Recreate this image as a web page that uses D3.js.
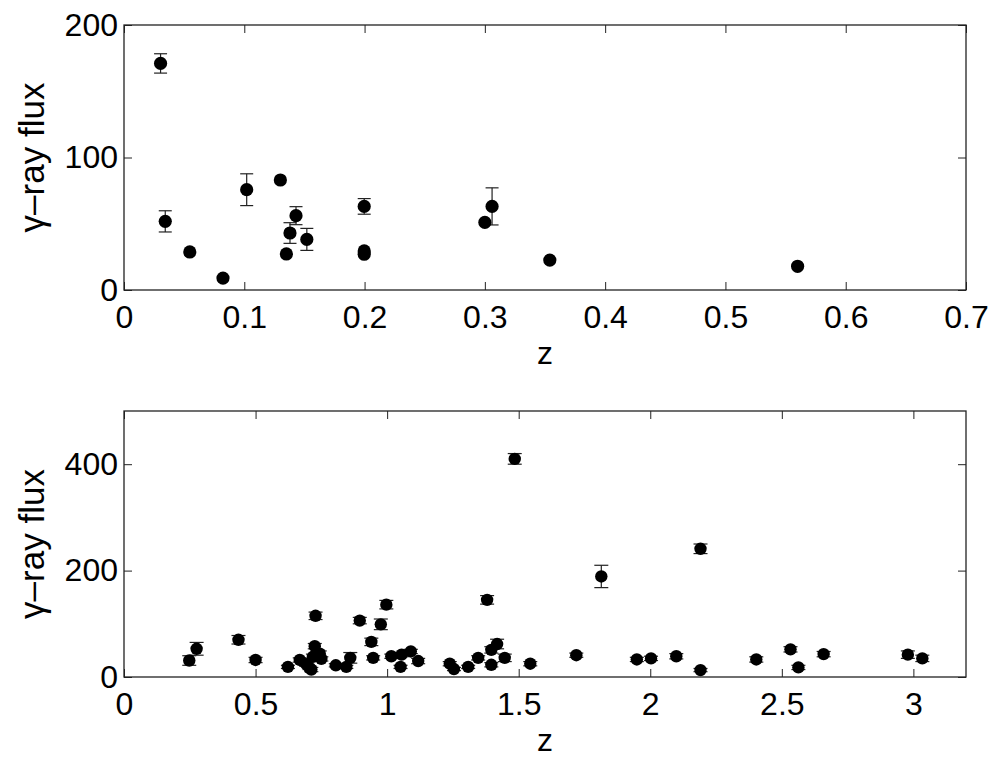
<!DOCTYPE html>
<html><head><meta charset="utf-8">
<script src="https://cdn.jsdelivr.net/npm/d3@7"></script>
<style>body{margin:0;background:#fff}svg{display:block}text{font-family:"Liberation Sans",Arial,Helvetica,sans-serif}</style>
</head><body><svg id="c" width="997" height="764"></svg>
<script>
// Top panel data (low-z sources)
const topZ    = [0.0304,0.0343,0.0547,0.0823,0.102,0.130,0.135,0.138,0.143,0.152,0.1997,0.1997,0.1997,0.300,0.306,0.354,0.560];
const topFlux = [171,51.8,28.7,9,75.7,83,27.2,43,56.1,38.2,63.1,29.5,27,51,63.1,22.6,17.9];
const topErr  = [7.3,8,0,0,12,0,0,7.8,6.8,8.3,5.9,0,0,0,14,0,0];
const topXTicks = [0,0.1,0.2,0.3,0.4,0.5,0.6,0.7];
const topYTicks = [0,100,200];

// Bottom panel data (high-z sources)
const botZ    = [0.248,0.276,0.435,0.500,0.623,0.668,0.693,0.705,0.712,0.718,0.725,0.728,0.744,0.750,0.805,0.845,0.860,0.896,0.940,0.947,0.976,0.997,1.016,1.051,1.055,1.090,1.118,1.238,1.254,1.308,1.346,1.380,1.396,1.418,1.396,1.447,1.485,1.544,1.719,1.814,1.949,2.003,2.099,2.191,2.191,2.403,2.533,2.563,2.659,2.979,3.034];
const botFlux = [31,53,70,32,19,32,24,17,14,38,58,115,44,34,22,19,36,106,66,36,99,136,39,19,42,48,30,25,15,19,36,145,51,62,23,36,410,25,41,189,33,35,39,241,13,33,52,18,43,42,35];
const botErr  = [9,12,8,5,3,4,4,3,4,5,5,7,5,4,3,3,10,6,7,4,10,8,4,3,4,4,5,4,3,3,4,8,6,9,4,7,10,4,4,21,4,4,5,9,3,5,5,4,5,7,6];
const botXTicks = [0,0.5,1,1.5,2,2.5,3];
const botYTicks = [0,200,400];

const svg = d3.select("#c");
const L = 124, R = 966;

function panel(opt){
  const x = d3.scaleLinear().domain(opt.xd).range([L,R]);
  const y = d3.scaleLinear().domain(opt.yd).range([opt.bottom,opt.top]);
  const g = svg.append("g");
  const tl = 8;
  // error bars
  const eg = g.append("g").attr("stroke","#222").attr("stroke-width",1.2).attr("fill","none");
  opt.zs.forEach((z,i)=>{
    const e = opt.err[i]; if(!e) return;
    const cx = x(z), y1 = y(opt.fl[i]-e), y2 = y(opt.fl[i]+e);
    eg.append("line").attr("x1",cx).attr("x2",cx).attr("y1",y1).attr("y2",y2);
    eg.append("line").attr("x1",cx-opt.cap).attr("x2",cx+opt.cap).attr("y1",y1).attr("y2",y1);
    eg.append("line").attr("x1",cx-opt.cap).attr("x2",cx+opt.cap).attr("y1",y2).attr("y2",y2);
  });
  g.append("g").selectAll("circle").data(opt.zs).join("circle")
    .attr("cx",d=>x(d)).attr("cy",(d,i)=>y(opt.fl[i])).attr("r",opt.r).attr("fill","#000");
  // axes with inward ticks
  const axB = d3.axisBottom(x).tickValues(opt.xt).tickSize(-tl).tickPadding(15).tickFormat(d=>d3.format("")(d));
  const axT = d3.axisTop(x).tickValues(opt.xt).tickSize(-tl).tickFormat("");
  const axL = d3.axisLeft(y).tickValues(opt.yt).tickSize(-tl).tickPadding(6);
  const axR = d3.axisRight(y).tickValues(opt.yt).tickSize(-tl).tickFormat("");
  const style = s=>{s.select(".domain").remove();s.selectAll("line").attr("stroke","#222").attr("stroke-width",1);s.selectAll("text").attr("font-size",32).attr("fill","#000").style("font-family",'"Liberation Sans",Arial,sans-serif');};
  g.append("g").attr("transform",`translate(0,${opt.bottom})`).call(axB).call(style);
  g.append("g").attr("transform",`translate(0,${opt.top})`).call(axT).call(style);
  g.append("g").attr("transform",`translate(${L},0)`).call(axL).call(style);
  g.append("g").attr("transform",`translate(${R},0)`).call(axR).call(style);
  g.append("rect").attr("x",L).attr("y",opt.top).attr("width",R-L).attr("height",opt.bottom-opt.top)
    .attr("fill","none").attr("stroke","#222").attr("stroke-width",1.3);
  g.append("text").attr("x",(L+R)/2).attr("y",opt.bottom+74).attr("text-anchor","middle").attr("font-size",32).text("z");
  g.append("text").attr("transform",`translate(44,${(opt.top+opt.bottom)/2}) rotate(-90)`)
    .attr("text-anchor","middle").attr("font-size",35).text("γ–ray flux");
}

panel({xd:[0,0.7],yd:[0,200],top:25,bottom:290,zs:topZ,fl:topFlux,err:topErr,xt:topXTicks,yt:topYTicks,r:6.6,cap:6.5});
panel({xd:[0,3.2],yd:[0,500],top:411,bottom:677,zs:botZ,fl:botFlux,err:botErr,xt:botXTicks,yt:botYTicks,r:6.2,cap:7});
</script></body></html>
